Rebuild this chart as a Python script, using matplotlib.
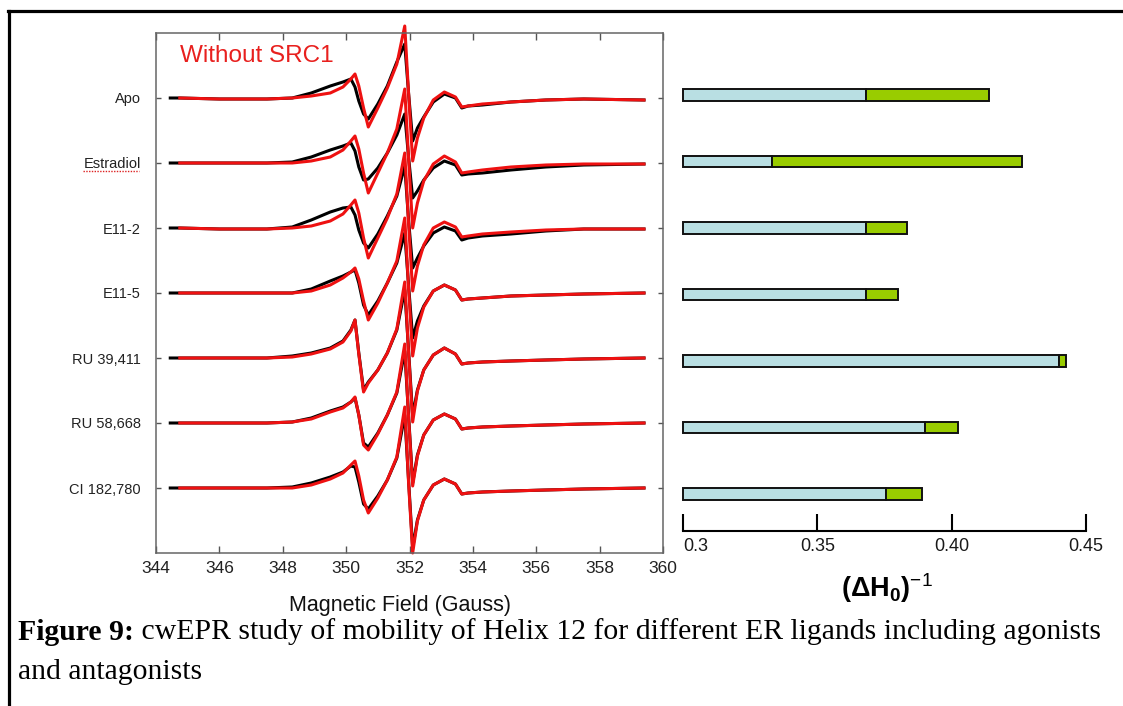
import numpy as np
import matplotlib
matplotlib.use("Agg")
import matplotlib.pyplot as plt
from matplotlib.lines import Line2D

plt.rcParams['font.family'] = ['Liberation Sans', 'DejaVu Sans']
plt.rcParams['mathtext.fontset'] = 'custom'
plt.rcParams['mathtext.rm'] = 'Liberation Sans'
plt.rcParams['mathtext.bf'] = 'Liberation Sans:bold'
plt.rcParams['mathtext.it'] = 'Liberation Sans:italic'

nan = np.nan

ligands = ["Apo", "Estradiol", "E11-2", "E11-5", "RU 39,411", "RU 58,668", "CI 182,780"]

field = [344.45, 344.75, 346.0, 347.5, 348.3, 348.9, 349.5, 349.9, 350.15, 350.28,
         350.4, 350.55, 350.7, 351.0, 351.3, 351.6, 351.85, 351.97, 352.1, 352.25,
         352.45, 352.75, 353.1, 353.45, 353.65, 353.85, 354.3, 355.2, 356.3, 357.5, 359.4]

# black traces, one list per ligand (arbitrary units)
black_apo = [0, 0, -1, -1, 0, 5, 12, 16, 19, 11, -3, -16, -21, -6, 12, 36, 54, 5, -43, -30, -19, -4, 4, 0, -10, -8, -7, -4, -2, -1, -2]
black_estradiol = [0, 0, 0, 0, 1, 6, 13, 17, 20, 12, -4, -17, -16, -5, 10, 28, 49, 6, -35, -28, -17, -5, 2, -2, -12, -11, -10, -7, -4, -2, -1]
black_e112 = [0, 0, -1, -1, 1, 8, 16, 20, 21, 13, -2, -15, -20, -6, 12, 32, 62, 8, -40, -30, -18, -5, 1, -3, -12, -10, -8, -6, -3, -1, -1]
black_e115 = [0, 0, 0, 0, 0, 4, 12, 17, 21, 23, 10, -12, -22, -8, 10, 30, 60, 8, -45, -28, -13, 2, 8, 3, -7, -6, -5, -3, -2, -1, 0]
black_ru39 = [0, 0, 0, 0, 2, 5, 10, 17, 28, 38, 5, -32, -24, -12, 5, 28, 68, 8, -58, -32, -12, 3, 10, 4, -6, -5, -4, -3, -2, -1, 0]
black_ru58 = [0, 0, 0, 0, 1, 5, 12, 16, 21, 25, 8, -20, -24, -10, 8, 30, 72, 8, -60, -32, -12, 3, 9, 4, -6, -5, -4, -3, -2, -1, 0]
black_ci = [0, 0, 0, 0, 1, 5, 11, 16, 22, 21, 6, -16, -21, -8, 8, 30, 73, 8, -60, -32, -12, 3, 9, 4, -6, -5, -4, -3, -2, -1, 0]

# red traces: without SRC1
red_apo = [nan, 0, -1, -1, 0, 2, 5, 11, 19, 24, 12, -10, -29, -10, 10, 34, 72, 5, -63, -40, -20, -2, 6, 1, -9, -8, -6, -4, -2, -1, -2]
red_estradiol = [nan, 0, 0, 0, 0, 2, 6, 13, 22, 27, 14, -10, -30, -10, 10, 34, 74, 5, -65, -40, -18, -1, 7, 1, -10, -9, -7, -4, -2, -1, -1]
red_e112 = [nan, 0, -1, -1, 0, 2, 7, 14, 23, 28, 15, -10, -30, -10, 10, 34, 75, 5, -63, -38, -17, 0, 6, 1, -9, -8, -6, -4, -2, -1, -1]
red_e115 = [nan, 0, 0, 0, 0, 2, 8, 15, 21, 25, 14, -8, -27, -10, 10, 32, 75, 5, -63, -35, -14, 2, 8, 3, -7, -6, -5, -3, -2, -1, 0]
red_ru39 = [nan, 0, 0, 0, 1, 4, 9, 16, 27, 38, 4, -34, -25, -12, 5, 29, 76, 6, -64, -33, -12, 3, 10, 4, -6, -5, -4, -3, -2, -1, 0]
red_ru58 = [nan, 0, 0, 0, 1, 4, 11, 15, 21, 26, 8, -22, -27, -11, 8, 31, 79, 6, -63, -33, -12, 3, 9, 4, -6, -5, -4, -3, -2, -1, 0]
red_ci = [nan, 0, 0, 0, 0, 3, 9, 15, 23, 27, 12, -12, -25, -10, 8, 31, 81, 6, -65, -33, -12, 3, 9, 4, -6, -5, -4, -3, -2, -1, 0]

black_traces = [black_apo, black_estradiol, black_e112, black_e115, black_ru39, black_ru58, black_ci]
red_traces = [red_apo, red_estradiol, red_e112, red_e115, red_ru39, red_ru58, red_ci]

# (dH0)^-1 bars: end of the blue part and end of the green part
inv_dh0_blue = [0.368, 0.333, 0.368, 0.368, 0.440, 0.390, 0.3755]
inv_dh0_green = [0.414, 0.426, 0.3835, 0.380, 0.4425, 0.4025, 0.389]

xticks_epr = [344, 346, 348, 350, 352, 354, 356, 358, 360]
xticks_bar = [0.3, 0.35, 0.40, 0.45]
xticklabels_bar = ["0.3", "0.35", "0.40", "0.45"]

caption_bold = "Figure 9:"
caption_rest = " cwEPR study of mobility of Helix 12 for different ER ligands including agonists"
caption_line2 = "and antagonists"

W, H = 1123, 706
fig = plt.figure(figsize=(W / 100, H / 100), dpi=100)

def rect(x0, y0, x1, y1):
    # pixel box -> figure fraction
    return [x0 / W, 1 - y1 / H, (x1 - x0) / W, (y1 - y0) / H]

# ---- EPR spectra panel ----
ax = fig.add_axes(rect(156, 33, 663, 553))
gap = 65
n = len(ligands)
offsets = [gap * (n - i) for i in range(n)]
for i in range(n):
    ax.plot(field, np.array(black_traces[i]) + offsets[i], color="black", lw=2.2,
            clip_on=False, solid_joinstyle="round")
for i in range(n):
    ax.plot(field, np.array(red_traces[i]) + offsets[i], color="#ee1111", lw=2.2,
            clip_on=False, solid_joinstyle="round")

ax.set_xlim(344, 360)
ax.set_ylim(0, gap * (n + 1))
ax.set_xticks(xticks_epr)
ax.set_xticklabels([str(t) for t in xticks_epr])
ax.set_yticks(offsets)
ax.set_yticklabels(ligands)
ax.tick_params(axis="x", direction="in", top=True, length=5, width=1, colors="#555555",
               labelcolor="#222222", labelsize=12.5, pad=6)
ax.tick_params(axis="y", direction="in", right=True, length=3.5, width=1, colors="#555555",
               labelcolor="#222222", labelsize=10.5, pad=11)
for s in ax.spines.values():
    s.set_color("#666666")
    s.set_linewidth(1.1)

fig.text(180 / W, 1 - 56 / H, "Without SRC1", color="#e8201e", fontsize=17.5,
         va="center", ha="left")
fig.text(400 / W, 1 - 606 / H, "Magnetic Field (Gauss)", fontsize=15.5, ha="center",
         va="center", color="#111111")

# spell-check underline under "Estradiol"
fig.add_artist(Line2D([83 / W, 139 / W], [1 - 171 / H, 1 - 171 / H], color="#dd2222",
                      lw=1.0, ls=(0, (1, 1))))

# ---- (dH0)^-1 bar panel ----
bx = fig.add_axes(rect(683, 33, 1086, 531))
ypos = [n - 1 - i for i in range(n)]
base = 0.3
blue_w = [b - base for b in inv_dh0_blue]
green_w = [g - b for g, b in zip(inv_dh0_green, inv_dh0_blue)]
bx.barh(ypos, blue_w, left=base, height=0.17, color="#b9dfe3", edgecolor="#111111",
        linewidth=1.4, clip_on=False)
bx.barh(ypos, green_w, left=inv_dh0_blue, height=0.17, color="#99cc00", edgecolor="#111111",
        linewidth=1.4, clip_on=False)
bx.set_xlim(0.3, 0.45)
bx.set_ylim(-0.556, 6.93)
bx.set_yticks([])
for side in ["left", "top", "right"]:
    bx.spines[side].set_visible(False)
bx.spines["bottom"].set_linewidth(1.5)
bx.set_xticks(xticks_bar)
bx.set_xticklabels(xticklabels_bar)
bx.tick_params(axis="x", direction="in", length=12, width=1.5, labelsize=13, pad=5,
               labelcolor="#1a1a1a")
bx.get_xticklabels()[0].set_horizontalalignment("left")
fig.text(887 / W, 1 - 588 / H, r"$\mathbf{(\Delta H_0)}^{-1}$", fontsize=19.5, ha="center",
         va="center")

# ---- outer frame and caption ----
fig.add_artist(Line2D([8.5 / W, 8.5 / W], [0, 1 - 11 / H], color="black", lw=2.3))
fig.add_artist(Line2D([8 / W, 1], [1 - 11 / H, 1 - 11 / H], color="black", lw=2.3))

cap_size = 21.4
t1 = fig.text(18 / W, 1 - 632 / H, caption_bold, fontsize=cap_size, fontweight="bold",
              family="Liberation Serif", va="center", ha="left")
ax.annotate(caption_rest, xy=(1, 0.5), xycoords=t1, va="center", ha="left",
            fontsize=cap_size, family="Liberation Serif", annotation_clip=False)
fig.text(18 / W, 1 - 672 / H, caption_line2, fontsize=cap_size, family="Liberation Serif",
         va="center", ha="left")

fig.savefig("out.png", dpi=100)
